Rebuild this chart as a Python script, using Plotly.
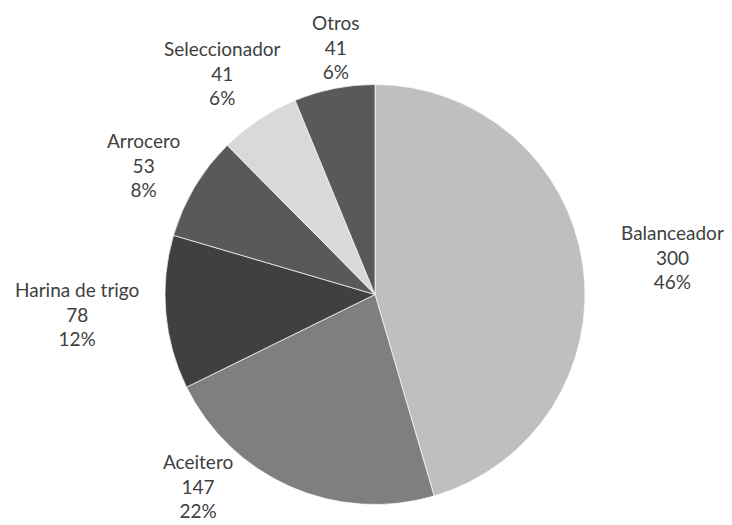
import plotly.graph_objects as go

# Data
categories = ['Balanceador', 'Aceitero', 'Harina de trigo', 'Arrocero', 'Seleccionador', 'Otros']
values = [300, 147, 78, 53, 41, 41]
pct_labels = ['46%', '22%', '12%', '8%', '6%', '6%']
colors = ['#bfbfbf', '#7f7f7f', '#404040', '#595959', '#d9d9d9', '#595959']

# the page body adds an 8px margin, so the figure is drawn 8px smaller
OFF = 8
W, H = 732 - OFF, 525 - OFF


def px_x(x):
    return (x - OFF) / W


def px_y(y):
    return 1 - (y - OFF) / H


# label block centres (pixels in the 732x525 window), Excel-style "best fit" placement
label_pos = [(672, 257), (198, 486), (77, 314), (143, 165), (222, 73), (336, 47)]

fig = go.Figure(go.Pie(
    labels=categories,
    values=values,
    sort=False,
    direction='clockwise',
    rotation=0,
    marker=dict(colors=colors, line=dict(color='#ffffff', width=0.7)),
    textinfo='none',
    hoverinfo='label+value',
    showlegend=False,
    domain=dict(x=[px_x(165), px_x(585)], y=[px_y(505), px_y(84)]),
))

for cat, val, pct, (lx, ly) in zip(categories, values, pct_labels, label_pos):
    fig.add_annotation(
        x=px_x(lx), y=px_y(ly), xref='paper', yref='paper',
        text=f'{cat}<br>{val}<br>{pct}',
        showarrow=False, align='center',
        xanchor='center', yanchor='middle',
        font=dict(family='Lato', size=19, color='#404040'),
    )

fig.update_layout(
    width=W,
    height=H,
    margin=dict(l=0, r=0, t=0, b=0),
    paper_bgcolor='#ffffff',
    plot_bgcolor='#ffffff',
)

fig.write_html("out.html")
